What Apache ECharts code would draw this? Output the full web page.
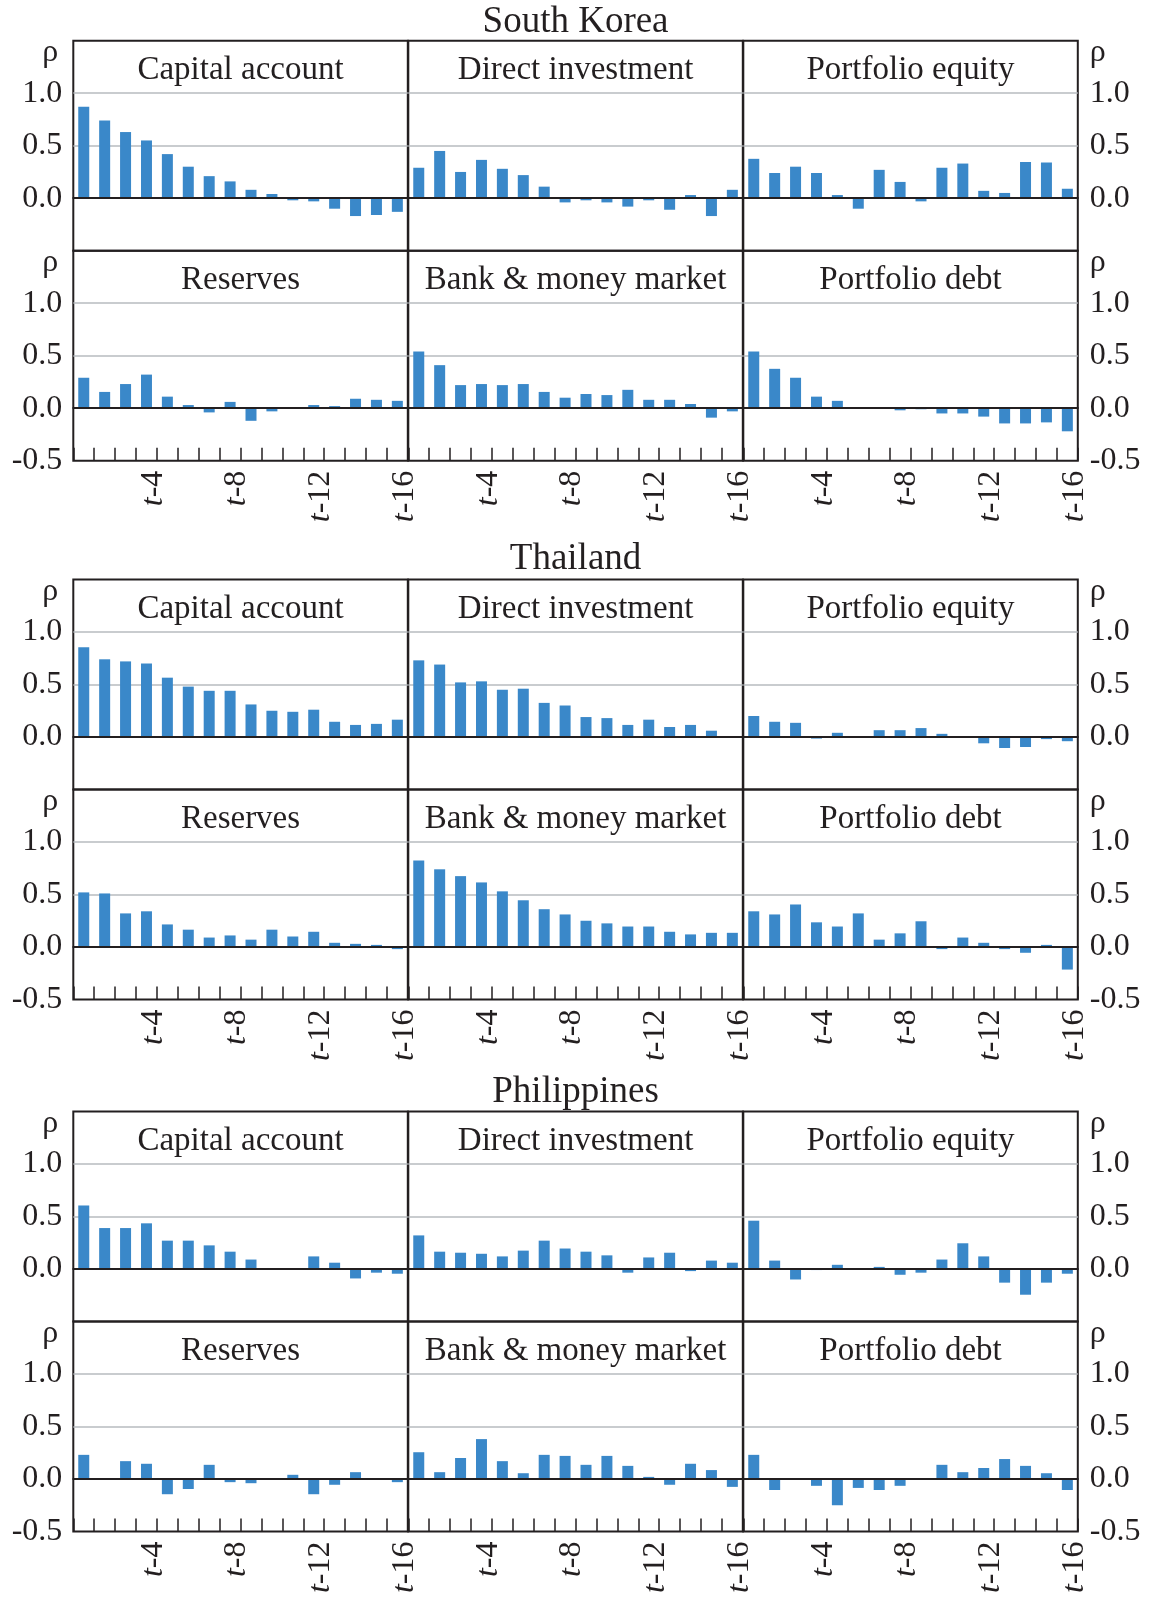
<!DOCTYPE html>
<html><head><meta charset="utf-8">
<script src="https://cdn.jsdelivr.net/npm/echarts@6/dist/echarts.min.js"></script>
<style>html,body{margin:0;padding:0;background:#fff}#c{width:1151px;height:1607px}</style>
</head><body><div id="c"></div>
<script>
// ---------- data ----------
const countries = ['South Korea', 'Thailand', 'Philippines'];
const panels = ['Capital account', 'Direct investment', 'Portfolio equity',
                'Reserves', 'Bank & money market', 'Portfolio debt'];
const lags = ['t-1','t-2','t-3','t-4','t-5','t-6','t-7','t-8','t-9','t-10','t-11','t-12','t-13','t-14','t-15','t-16'];
const tickLags = [4, 8, 12, 16];
const tickLabels = ['t-4', 't-8', 't-12', 't-16'];
const yTicks = [-0.5, 0, 0.5, 1.0, 1.5];
const yAxisSymbol = 'ρ';

const korCapital  = [0.87, 0.74, 0.63, 0.55, 0.42, 0.30, 0.21, 0.16, 0.08, 0.04, -0.02, -0.03, -0.10, -0.17, -0.16, -0.13];
const korDirect   = [0.29, 0.45, 0.25, 0.365, 0.28, 0.22, 0.11, -0.04, -0.02, -0.04, -0.08, -0.02, -0.11, 0.03, -0.17, 0.08];
const korEquity   = [0.375, 0.24, 0.30, 0.24, 0.03, -0.10, 0.27, 0.155, -0.03, 0.29, 0.33, 0.07, 0.05, 0.345, 0.34, 0.09];
const korReserves = [0.29, 0.155, 0.23, 0.32, 0.11, 0.03, -0.04, 0.06, -0.12, -0.03, 0, 0.03, 0.02, 0.09, 0.08, 0.07];
const korBank     = [0.54, 0.41, 0.22, 0.23, 0.22, 0.23, 0.155, 0.10, 0.135, 0.125, 0.175, 0.08, 0.08, 0.04, -0.09, -0.03];
const korDebt     = [0.54, 0.375, 0.29, 0.11, 0.07, 0, 0, -0.02, -0.01, -0.05, -0.05, -0.08, -0.145, -0.145, -0.135, -0.22];

const thaCapital  = [0.855, 0.74, 0.72, 0.70, 0.565, 0.48, 0.44, 0.44, 0.31, 0.25, 0.24, 0.26, 0.145, 0.115, 0.125, 0.165];
const thaDirect   = [0.73, 0.69, 0.52, 0.53, 0.45, 0.46, 0.325, 0.30, 0.19, 0.18, 0.115, 0.165, 0.095, 0.115, 0.06, 0];
const thaEquity   = [0.20, 0.145, 0.135, -0.015, 0.04, 0, 0.065, 0.065, 0.085, 0.03, 0, -0.06, -0.105, -0.095, -0.02, -0.04];
const thaReserves = [0.52, 0.51, 0.32, 0.34, 0.215, 0.165, 0.09, 0.11, 0.07, 0.165, 0.10, 0.145, 0.04, 0.03, 0.02, -0.02];
const thaBank     = [0.825, 0.74, 0.675, 0.615, 0.53, 0.445, 0.36, 0.31, 0.25, 0.225, 0.195, 0.195, 0.145, 0.12, 0.135, 0.135];
const thaDebt     = [0.34, 0.31, 0.405, 0.235, 0.195, 0.32, 0.07, 0.13, 0.245, -0.02, 0.09, 0.04, -0.02, -0.055, 0.02, -0.215];

const phiCapital  = [0.605, 0.39, 0.39, 0.435, 0.27, 0.27, 0.225, 0.165, 0.09, -0.005, 0, 0.12, 0.06, -0.09, -0.035, -0.045];
const phiDirect   = [0.32, 0.165, 0.155, 0.145, 0.12, 0.175, 0.27, 0.195, 0.165, 0.13, -0.035, 0.11, 0.155, -0.02, 0.08, 0.06];
const phiEquity   = [0.46, 0.08, -0.10, -0.01, 0.04, 0, 0.02, -0.055, -0.035, 0.09, 0.245, 0.12, -0.13, -0.245, -0.13, -0.045];
const phiReserves = [0.23, 0.005, 0.17, 0.145, -0.145, -0.095, 0.135, -0.03, -0.04, 0, 0.04, -0.145, -0.055, 0.065, 0, -0.03];
const phiBank     = [0.255, 0.065, 0.20, 0.38, 0.17, 0.055, 0.23, 0.22, 0.135, 0.22, 0.125, 0.02, -0.055, 0.145, 0.085, -0.075];
const phiDebt     = [0.23, -0.105, 0, -0.065, -0.25, -0.085, -0.105, -0.065, 0, 0.135, 0.065, 0.105, 0.19, 0.125, 0.055, -0.105];

const seriesByCountry = [
  [korCapital, korDirect, korEquity, korReserves, korBank, korDebt],
  [thaCapital, thaDirect, thaEquity, thaReserves, thaBank, thaDebt],
  [phiCapital, phiDirect, phiEquity, phiReserves, phiBank, phiDebt]
];

// ---------- layout / style ----------
const FONT = '"Liberation Serif", "Times New Roman", serif';
const INK = '#231F20';
const BAR = '#3A88C9';
const GRIDLINE = '#B7BBBF';
const colLeft = [73.3, 408.3, 743.3];
const colW = 334.5;
const blockTop = [40.7, 579.5, 1111.5];
const rowH = 210;
const titleY = [22.2, 559.5, 1092];

const grids = [], xAxes = [], yAxes = [], series = [], graphics = [];

countries.forEach((country, c) => {
  graphics.push({
    type: 'text', x: (colLeft[0] + colLeft[2] + colW) / 2, y: titleY[c], z: 10,
    style: { text: country, font: '37px ' + FONT, fill: INK,
             textAlign: 'center', textVerticalAlign: 'middle', align: 'center', verticalAlign: 'middle' }
  });
  panels.forEach((panel, p) => {
    const row = Math.floor(p / 3), col = p % 3;
    const g = grids.length;
    const top = blockTop[c] + row * rowH;
    grids.push({ left: colLeft[col], top: top, width: colW, height: rowH,
                 show: true, borderColor: INK, borderWidth: 2, backgroundColor: 'rgba(0,0,0,0)' });
    graphics.push({
      type: 'text', x: colLeft[col] + colW / 2, y: top + 30, z: 10,
      style: { text: panel, font: '33px ' + FONT, fill: INK,
               textAlign: 'center', textVerticalAlign: 'middle', align: 'center', verticalAlign: 'middle' }
    });
    // category axis for bars (its line is the zero line)
    xAxes.push({
      type: 'category', gridIndex: g, data: lags, z: 3,
      axisLine: { show: true, onZero: true, lineStyle: { color: INK, width: 2 } },
      axisTick: { show: false }, axisLabel: { show: false }, splitLine: { show: false }
    });
    // value axis used only for the inward ticks and the lag labels at the bottom
    xAxes.push({
      type: 'value', gridIndex: g, min: 0, max: 16, interval: 1, position: 'bottom',
      show: row === 1,
      axisLine: { show: false, onZero: false },
      axisTick: { show: true, inside: true, length: 13, lineStyle: { color: INK, width: 1.5 } },
      splitLine: { show: false },
      axisLabel: {
        show: true, rotate: 90, margin: 10, fontFamily: FONT, fontSize: 32, color: INK,
        formatter: function (v) {
          const k = tickLags.indexOf(Math.round(v));
          if (k < 0) return '';
          const s = tickLabels[k];
          return '{i|' + s.charAt(0) + '}{n|' + s.slice(1) + '}';
        },
        rich: {
          i: { fontStyle: 'italic', fontFamily: FONT, fontSize: 32, color: INK, padding: [0, 0, 7, 0] },
          n: { fontFamily: FONT, fontSize: 32, color: INK, padding: [0, 0, 7, 0] }
        }
      }
    });
    yAxes.push({
      type: 'value', gridIndex: g, min: yTicks[0], max: yTicks[yTicks.length - 1], interval: 0.5,
      position: col === 2 ? 'right' : 'left',
      axisLine: { show: false }, axisTick: { show: false },
      splitLine: { show: true, lineStyle: { width: 1.5,
        color: ['rgba(0,0,0,0)', 'rgba(0,0,0,0)', GRIDLINE, GRIDLINE, 'rgba(0,0,0,0)'] } },
      axisLabel: {
        show: col !== 1, margin: col === 2 ? 12 : 11,
        fontFamily: FONT, fontSize: 32, color: INK,
        formatter: function (v) {
          if (Math.abs(v - yTicks[yTicks.length - 1]) < 1e-9) return '{r|' + yAxisSymbol + '}';
          if (row === 0 && Math.abs(v - yTicks[0]) < 1e-9) return '';
          return v.toFixed(1);
        },
        rich: { r: { padding: col === 2 ? [24, 0, 0, 0] : [24, 4, 0, 0], fontFamily: FONT, fontSize: 32, color: INK } }
      }
    });
    series.push({
      type: 'bar', name: country + ' - ' + panel, xAxisIndex: 2 * g, yAxisIndex: g,
      data: seriesByCountry[c][p], barWidth: 11, silent: true,
      itemStyle: { color: BAR }
    });
  });
});

const chart = echarts.init(document.getElementById('c'), null, { renderer: 'canvas' });
chart.setOption({
  animation: false,
  backgroundColor: '#fff',
  textStyle: { fontFamily: FONT },
  grid: grids, xAxis: xAxes, yAxis: yAxes, series: series,
  graphic: graphics
});
</script></body></html>
